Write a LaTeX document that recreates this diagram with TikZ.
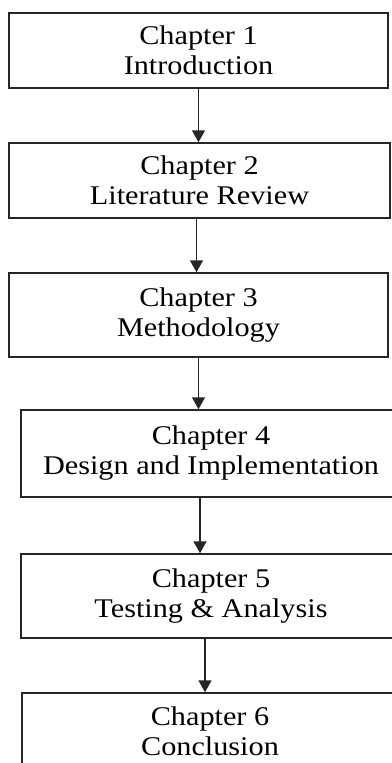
\documentclass[tikz,border=0pt]{standalone}
\usepackage{fontspec}
\usepackage{graphicx}
\usepackage{tikz}
\usetikzlibrary{calc,arrows.meta}
\setmainfont{Liberation Serif}

\newcommand{\wide}[1]{\scalebox{1.12}[1]{#1}}
\newcommand{\chapbox}[2]{\wide{Chapter #1}\\\wide{#2}}

\begin{document}
\begin{tikzpicture}[x=1pt,y=-1pt,
        chap/.style={draw=black!85, line width=1.5pt, fill=white, align=center, inner sep=0pt,
                     font=\fontsize{27}{30}\selectfont},
        arr/.style={draw=black!85, line width=1.5pt, -{Triangle[length=12pt,width=13pt]}}]
                            \useasboundingbox (0,0) rectangle (391,763);
                            \fill[white] (0,0) rectangle (391,763);
                            \node[chap, minimum width=379pt, minimum height=75pt] (b1) at (198.5,50.5) {\chapbox{1}{Introduction}};
                            \node[chap, minimum width=381pt, minimum height=75pt] (b2) at (199.5,180.5) {\chapbox{2}{Literature Review}};
                            \node[chap, minimum width=379pt, minimum height=84pt] (b3) at (198.5,315) {\chapbox{3}{Methodology}};
                            \node[chap, minimum width=380pt, minimum height=87pt] (b4) at (211,453.5) {\chapbox{4}{Design and Implementation}};
                            \node[chap, minimum width=380pt, minimum height=84pt] (b5) at (211,596) {\chapbox{5}{Testing \& Analysis}};
                            \node[chap, minimum width=376pt, minimum height=76pt] (b6) at (210,731) {\chapbox{6}{Conclusion}};
                            \foreach \a/\b/\s in {b1/b2/0, b2/b3/-3, b3/b4/0, b4/b5/-11, b5/b6/-6}{
                                \draw[arr] ($(\a.south)+(\s,0)$) -- ($(\a.south |- \b.north)+(\s,0)$);
                            }
                        \end{tikzpicture}
\end{document}
